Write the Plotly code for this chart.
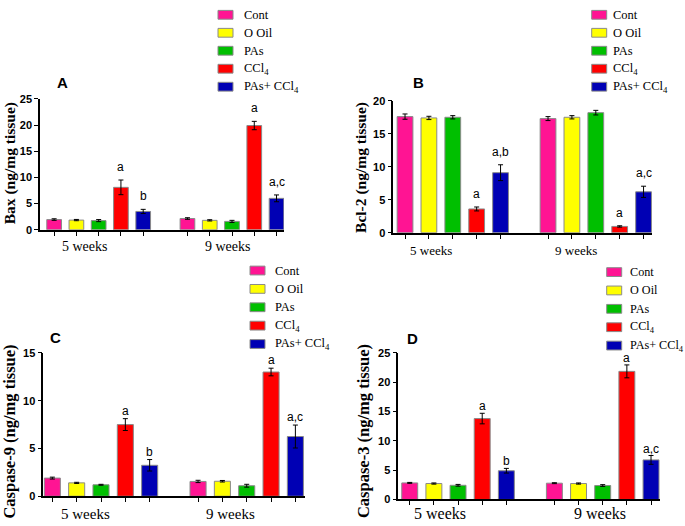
import plotly.graph_objects as go

# ---------------- data ----------------
groups = ["5 weeks", "9 weeks"]
series = ["Cont", "O Oil", "PAs", "CCl<sub>4</sub>", "PAs+ CCl<sub>4</sub>"]
colors = ["#FF1493", "#FFFF00", "#00BF00", "#FF0000", "#0000B4"]

panel_letters = ["A", "B", "C", "D"]
y_titles = ["Bax (ng/mg tissue)", "Bcl-2 (ng/mg tissue)",
            "Caspase-9 (ng/mg tissue)", "Caspase-3 (ng/mg tissue)"]
y_max = [25, 20, 15, 25]

# Bax
bax_cont = [1.95, 2.15]
bax_ooil = [1.85, 1.8]
bax_pas = [1.75, 1.6]
bax_ccl4 = [8.1, 19.9]
bax_pasccl4 = [3.5, 6.0]
bax_err = [[0.15, 0.15], [0.12, 0.12], [0.2, 0.2], [1.4, 0.8], [0.4, 0.65]]
bax_sig = [["", ""], ["", ""], ["", ""], ["a", "a"], ["b", "a,c"]]

# Bcl-2
bcl_cont = [17.6, 17.3]
bcl_ooil = [17.4, 17.5]
bcl_pas = [17.5, 18.2]
bcl_ccl4 = [3.6, 0.95]
bcl_pasccl4 = [9.1, 6.2]
bcl_err = [[0.4, 0.3], [0.25, 0.25], [0.25, 0.35], [0.3, 0.1], [1.2, 0.85]]
bcl_sig = [["", ""], ["", ""], ["", ""], ["a", "a"], ["a,b", "a,c"]]

# Caspase-9
c9_cont = [1.9, 1.55]
c9_ooil = [1.4, 1.57]
c9_pas = [1.2, 1.1]
c9_ccl4 = [7.5, 13.0]
c9_pasccl4 = [3.24, 6.25]
c9_err = [[0.1, 0.12], [0.06, 0.08], [0.05, 0.15], [0.62, 0.4], [0.6, 1.2]]
c9_sig = [["", ""], ["", ""], ["", ""], ["a", "a"], ["b", "a,c"]]

# Caspase-3
c3_cont = [2.83, 2.78]
c3_ooil = [2.72, 2.72]
c3_pas = [2.42, 2.38]
c3_ccl4 = [13.8, 21.85]
c3_pasccl4 = [4.9, 6.75]
c3_err = [[0.08, 0.08], [0.1, 0.1], [0.15, 0.15], [0.9, 1.1], [0.4, 0.75]]
c3_sig = [["", ""], ["", ""], ["", ""], ["a", "a"], ["b", "a,c"]]

panel_values = [
    [bax_cont, bax_ooil, bax_pas, bax_ccl4, bax_pasccl4],
    [bcl_cont, bcl_ooil, bcl_pas, bcl_ccl4, bcl_pasccl4],
    [c9_cont, c9_ooil, c9_pas, c9_ccl4, c9_pasccl4],
    [c3_cont, c3_ooil, c3_pas, c3_ccl4, c3_pasccl4],
]
panel_errors = [bax_err, bcl_err, c9_err, c3_err]
panel_sig = [bax_sig, bcl_sig, c9_sig, c3_sig]

# ---------------- layout (pixels) ----------------
W, H = 685, 526
BARGAP, BARGROUPGAP = 0.165, 0.34
px_x = [(40, 284), (393.3, 652), (43.3, 305), (398.3, 660)]
px_y = [(95, 229), (97, 232), (355, 501.7), (355, 505)]
x_ranges = [(-0.44, 1.39), (-0.416, 1.393), (-0.396, 1.40), (-0.413, 1.396)]
grp_label_y = [246, 250, 520, 519]
grp_label_shift = [(-14, -4), (-22, -20), (-16, -16), (-18, -3)]
grp_label_size = [14, 13, 15, 16]
ytitle_pos = [(10, 161), (361.7, 165), (10, 435.5), (363, 435)]
ytitle_size = [15.5, 15.5, 16.5, 16.5]
letter_pos = [(63, 78), (418, 78), (55, 339), (413, 340)]
sig_shift = [4, 4, -1, -2]
legend_pos = [  # swatch left x, first row y, row pitch, text x
    (218, 9, 18.4, 241.7),
    (591.7, 9, 18.4, 610.7),
    (250, 270.7, 18.8, 272.7),
    (606.7, 272.3, 18.8, 628.3),
]
legend_size = [12.5, 12.5, 12.5, 12.2]

SERIF = "Liberation Serif"
SANS = "Liberation Sans"

def px2x(v):
    return v / W

def px2y(v):
    return 1 - v / H

fig = go.Figure()
annotations = []
shapes = []
n = len(series)
slot = (1 - BARGAP) / n
xvals = list(range(len(groups)))

for p in range(4):
    xa = "x" if p == 0 else f"x{p+1}"
    ya = "y" if p == 0 else f"y{p+1}"
    for i in range(n):
        fig.add_trace(go.Bar(
            x=xvals, y=panel_values[p][i], name=series[i],
            marker=dict(color=colors[i], line=dict(color="#8a8a8a", width=1)),
            error_y=dict(type="data", array=panel_errors[p][i], color="black",
                         thickness=1, width=2.5),
            xaxis=xa, yaxis=ya, showlegend=False,
        ))
        # significance letters
        for g in range(len(groups)):
            txt = panel_sig[p][i][g]
            if txt:
                annotations.append(dict(
                    x=g + (i - (n - 1) / 2) * slot,
                    y=panel_values[p][i][g] + panel_errors[p][i][g],
                    xref=xa, yref=ya, text=txt, showarrow=False,
                    yanchor="bottom", yshift=sig_shift[p],
                    font=dict(family=SANS, size=12, color="black"),
                ))
    tickvals = [g + (i - (n - 1) / 2) * slot for g in xvals for i in range(n)]
    axis_x = dict(
        domain=[px2x(px_x[p][0]), px2x(px_x[p][1])],
        range=list(x_ranges[p]), anchor=ya,
        showline=True, linecolor="black", linewidth=2,
        ticks="outside", tickvals=tickvals, ticklen=4, tickwidth=1.2,
        tickcolor="black", showticklabels=False,
        showgrid=False, zeroline=False, fixedrange=True,
    )
    axis_y = dict(
        domain=[px2y(px_y[p][1]), px2y(px_y[p][0])],
        range=[0, y_max[p]], dtick=5, anchor=xa,
        showline=True, linecolor="black", linewidth=1.5,
        ticks="outside", ticklen=4, tickwidth=1.2, tickcolor="black",
        tickfont=dict(family=SANS, size=11, color="black", weight="bold"),
        showgrid=False, zeroline=False, fixedrange=True,
    )
    key = "" if p == 0 else str(p + 1)
    fig.update_layout(**{f"xaxis{key}": axis_x, f"yaxis{key}": axis_y})

    # group labels
    for g in xvals:
        annotations.append(dict(
            x=g, xref=xa, xshift=grp_label_shift[p][g],
            y=px2y(grp_label_y[p]), yref="paper", yanchor="middle",
            text=groups[g], showarrow=False,
            font=dict(family=SERIF, size=grp_label_size[p], color="black"),
        ))
    # y title
    annotations.append(dict(
        x=px2x(ytitle_pos[p][0]), y=px2y(ytitle_pos[p][1]), xref="paper", yref="paper",
        text=f"<b>{y_titles[p]}</b>", textangle=-90, showarrow=False,
        xanchor="center", yanchor="middle",
        font=dict(family=SERIF, size=ytitle_size[p], color="black"),
    ))
    # panel letter
    annotations.append(dict(
        x=px2x(letter_pos[p][0]), y=px2y(letter_pos[p][1]), xref="paper", yref="paper",
        text=f"<b>{panel_letters[p]}</b>", showarrow=False,
        xanchor="center", yanchor="middle",
        font=dict(family=SANS, size=15, color="black"),
    ))
    # legend
    sx, sy, pitch, tx = legend_pos[p]
    for i in range(n):
        cy = sy + i * pitch
        shapes.append(dict(
            type="rect", xref="paper", yref="paper",
            x0=px2x(sx), x1=px2x(sx + 15), y0=px2y(cy + 4.5), y1=px2y(cy - 4.5),
            fillcolor=colors[i], line=dict(color="#8a8a8a", width=1),
        ))
        annotations.append(dict(
            x=px2x(tx), y=px2y(cy), xref="paper", yref="paper",
            text=series[i], showarrow=False, xanchor="left", yanchor="middle",
            font=dict(family=SERIF, size=legend_size[p], color="black"),
        ))

fig.update_layout(
    width=W, height=H, margin=dict(l=0, r=0, t=0, b=0),
    paper_bgcolor="white", plot_bgcolor="white",
    barmode="group", bargap=BARGAP, bargroupgap=BARGROUPGAP,
    annotations=annotations, shapes=shapes, showlegend=False,
)

fig.write_html(
    "out.html",
    config={"displayModeBar": False},
    post_script="document.body.style.margin='0';document.body.style.padding='0';"
                "document.body.style.overflow='hidden';",
)
